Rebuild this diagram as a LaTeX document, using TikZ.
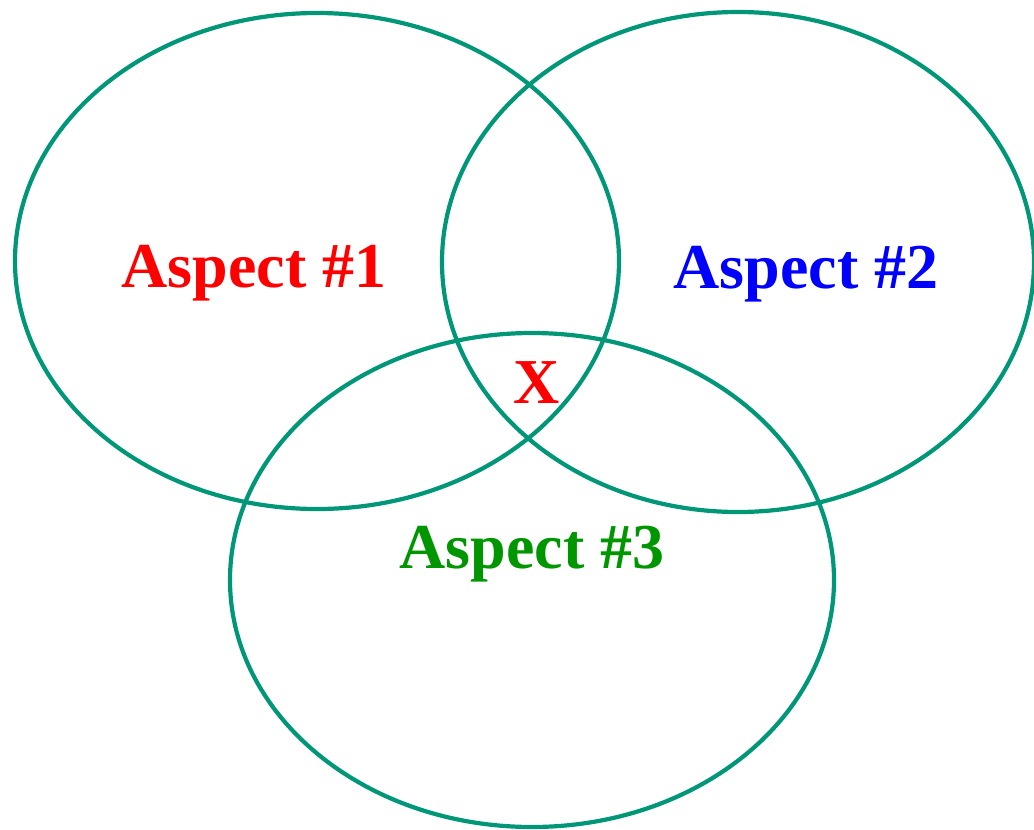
\documentclass[tikz,border=0pt]{standalone}
\usepackage{fontspec}
\setmainfont{Liberation Serif}
\definecolor{ring}{RGB}{0,150,120}
\definecolor{aspred}{RGB}{255,0,0}
\definecolor{aspblue}{RGB}{0,0,255}
\definecolor{aspgreen}{RGB}{0,150,0}
\tikzset{
  ringline/.style={draw=ring, line width=4.2pt},
  asplabel/.style={font=\fontsize{64}{70}\selectfont\bfseries, anchor=base, inner sep=0pt}
}
\begin{document}
\begin{tikzpicture}[x=1pt,y=-1pt]
\useasboundingbox (0,0) rectangle (1034,830);
\draw[ringline] (317,261) ellipse [x radius=302, y radius=248];
\draw[ringline] (738,262) ellipse [x radius=296, y radius=250];
\draw[ringline] (532,580) ellipse [x radius=302, y radius=247];
\node[asplabel, text=aspred] (a1) at (254,287) {Aspect \#1};
\node[asplabel, text=aspblue] (a2) at (806,288) {Aspect \#2};
\node[asplabel, text=aspgreen] (a3) at (532,568) {Aspect \#3};
\node[asplabel, text=aspred] (x) at (537,403) {X};
\end{tikzpicture}
\end{document}
